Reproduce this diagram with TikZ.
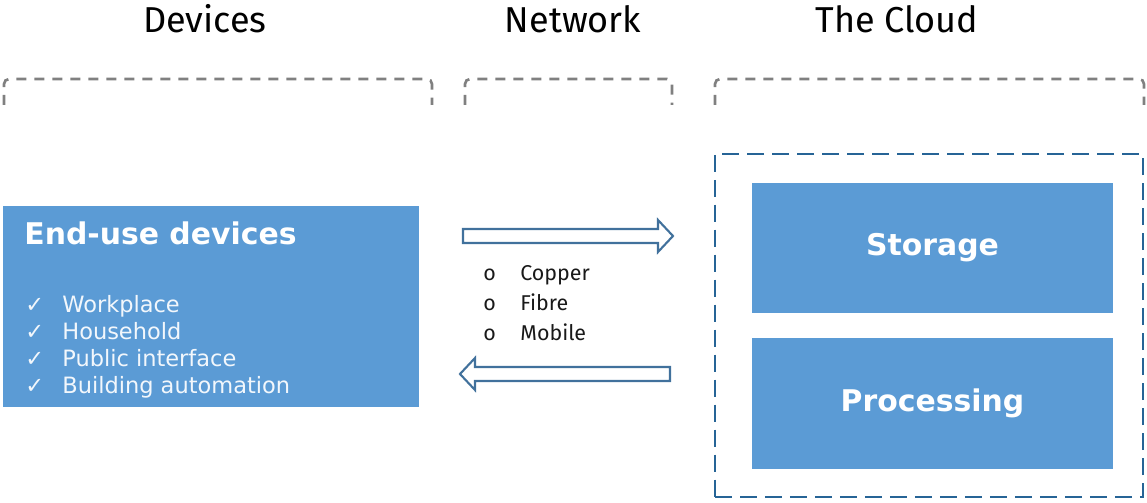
\documentclass[tikz,border=0pt]{standalone}
\usepackage{xcolor}
\usepackage{fontspec}
\usepackage{tikz}
\usetikzlibrary{positioning, fit}

\setmainfont{DejaVu Sans}
\newfontfamily\headfont{Fira Sans}

\definecolor{tileblue}{RGB}{91,155,213}
\definecolor{arrowedge}{RGB}{65,113,156}
\definecolor{cloudedge}{RGB}{38,100,150}
\definecolor{bracketgray}{RGB}{128,128,128}

\begin{document}
\begin{tikzpicture}[
  x=0.02cm, y=-0.02cm,
  heading/.style={anchor=base, inner sep=0pt, font=\headfont\fontsize{20.5}{24}\selectfont},
  bracket/.style={draw=bracketgray, line width=1.5pt, dash pattern=on 0.2cm off 0.16cm,
                  rounded corners=0.1cm},
  tile/.style={rectangle, fill=tileblue, inner sep=0pt, text=white,
               font=\bfseries\fontsize{17}{20}\selectfont},
  tilelist/.style={anchor=base west, inner sep=0pt, text=white!92!tileblue,
                   font=\fontsize{12.8}{15}\selectfont},
  netlist/.style={anchor=base west, inner sep=0pt, text=black!90,
                  font=\headfont\fontsize{12.2}{15}\selectfont},
  flow/.style={draw=arrowedge, fill=white, line width=1.2pt, line join=miter},
  cloudbox/.style={draw=cloudedge, line width=1.6pt, inner sep=0pt,
                   dash pattern=on 0.34cm off 0.16cm}
]
\useasboundingbox (0,0) rectangle (1147,503);

% column headings
\node[heading] (devhead) at (205,33) {Devices};
\node[heading] (nethead) at (573,33) {Network};
\node[heading] (cloudhead) at (897,33) {The Cloud};

\draw[bracket] (4,105) -- (4,79) -- (432,79) -- (432,105);
\draw[bracket] (465,105) -- (465,79) -- (672,79) -- (672,105);
\draw[bracket] (715,105) -- (715,79) -- (1144,79) -- (1144,105);

% devices
\node[tile, minimum width=8.32cm, minimum height=4.02cm] (devices) at (211,306.5) {};
\node[anchor=base west, inner sep=0pt, text=white, font=\bfseries\fontsize{17}{20}\selectfont]
  (devtitle) at (24,245) {End-use devices};
\foreach \item [count=\i] in {Workplace, Household, Public interface, Building automation}
  \node[tilelist] (item\i) at (25,{313+26.7*(\i-1)}) {\makebox[0.74cm][l]{✓}\item};

% network
\draw[flow] (463,229) -- (658,229) -- (658,220) -- (673,236) -- (658,252) -- (658,243) -- (463,243) -- cycle;
\draw[flow] (670,367) -- (475,367) -- (475,358) -- (460,374) -- (475,390) -- (475,381) -- (670,381) -- cycle;
\foreach \link [count=\i] in {Copper, Fibre, Mobile}
  \node[netlist] (link\i) at (483,{281+30*(\i-1)}) {\makebox[0.74cm][l]{o}\link};

% cloud
\node[tile, minimum width=7.22cm, minimum height=2.6cm] (storage) at (932.5,248) {Storage};
\node[tile, minimum width=7.22cm, minimum height=2.62cm, below=0.48cm of storage] (processing) {Processing};
\coordinate (cloudnw) at (715,154);
\coordinate (cloudse) at (1143,497);
\node[cloudbox, fit=(cloudnw)(cloudse)] (cloud) {};

\end{tikzpicture}
\end{document}
